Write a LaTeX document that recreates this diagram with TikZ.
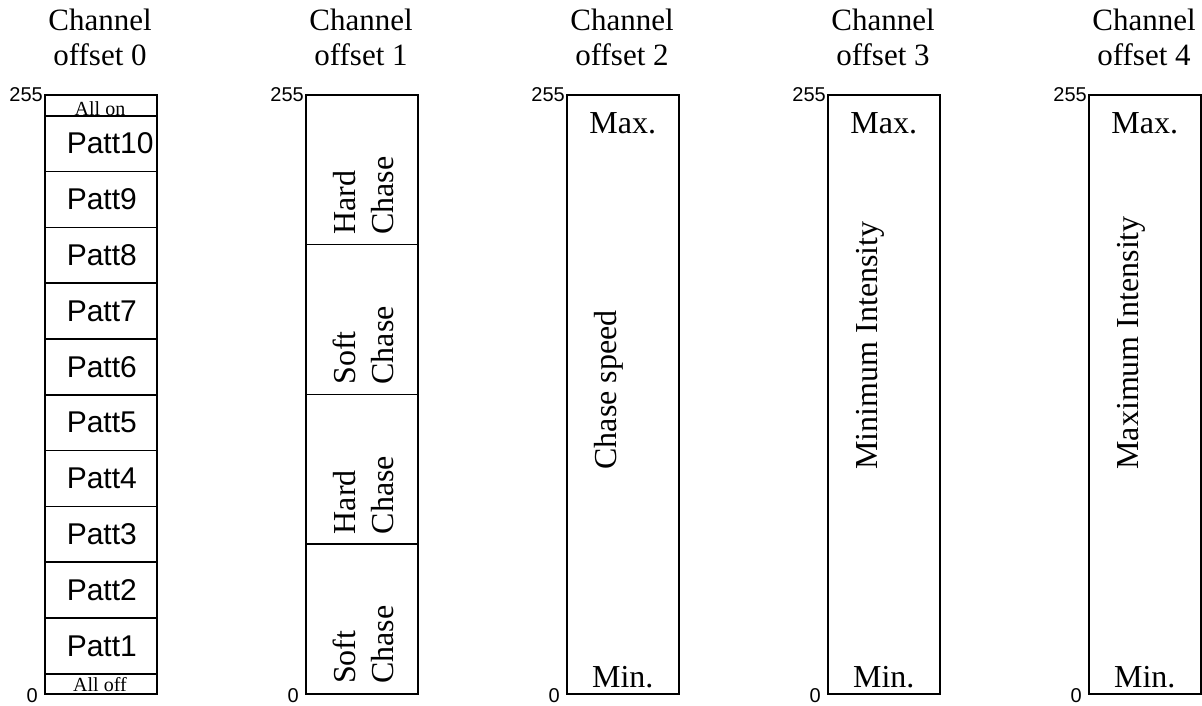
\documentclass[tikz,border=0pt]{standalone}
\usepackage{fontspec}
\setmainfont{Liberation Serif}
\newfontfamily\labelfont{Liberation Sans}
\begin{document}
\begin{tikzpicture}[
        x=1pt, y=-1pt,
        cell/.style={draw, line width=1.5pt, rectangle, minimum width=112pt, inner sep=0pt, anchor=north west},
        patt/.style={cell, minimum height=55.8pt, text width=68pt, inner xsep=22pt, align=left, font=\labelfont\fontsize{30}{36}\selectfont},
        title/.style={align=center, anchor=north, inner sep=0pt, font=\fontsize{31}{35}\selectfont},
        tick/.style={anchor=east, inner sep=1pt, font=\labelfont\fontsize{20}{24}\selectfont},
        small/.style={anchor=base, inner sep=0pt, font=\fontsize{20}{24}\selectfont},
        limit/.style={anchor=base, inner sep=0pt, font=\fontsize{32}{38}\selectfont},
        vtext/.style={rotate=90, anchor=west, align=left, font=\fontsize{32}{38}\selectfont},
    ]
    \useasboundingbox (0,0) rectangle (1202,705);
    % titles and range marks
    \foreach \i/\xl in {0/44,1/305,2/566,3/827,4/1088}{
        \node[title] (title\i) at (\xl+56,9) {Channel\\offset \i};
        \node[tick, yshift=-1pt] (top\i) at (\xl,94) {255};
        \node[tick, xshift=-5pt, yshift=-3pt] (bot\i) at (\xl,693) {0};
    }
    % offset 0
    \node[cell, minimum height=21pt] (allon) at (44,94) {};
    \node[small] (allontext) at (100,115) {All on};
    \foreach \n in {1,...,10}
        \node[patt] (patt\n) at (44,{673-\n*55.8}) {Patt\n};
    \node[cell, minimum height=20pt] (alloff) at (44,673) {};
    \node[small] (allofftext) at (100,691) {All off};
    % offset 1
    \node[cell, minimum height=149.75pt] (hard1) at (305,94) {};
    \node[cell, minimum height=149.75pt] (soft1) at (305,243.75) {};
    \node[cell, minimum height=149.75pt] (hard2) at (305,393.5) {};
    \node[cell, minimum height=149.75pt] (soft2) at (305,543.25) {};
    \node[vtext] (hard1text) at ([xshift=2pt,yshift=7pt]hard1.south) {Hard\\Chase};
    \node[vtext] (soft1text) at ([xshift=2pt,yshift=7pt]soft1.south) {Soft\\Chase};
    \node[vtext] (hard2text) at ([xshift=2pt,yshift=7pt]hard2.south) {Hard\\Chase};
    \node[vtext] (soft2text) at ([xshift=2pt,yshift=7pt]soft2.south) {Soft\\Chase};
    % offsets 2 to 4
    \node[cell, minimum height=599pt] (speed) at (566,94) {};
    \node[cell, minimum height=599pt] (minint) at (827,94) {};
    \node[cell, minimum height=599pt] (maxint) at (1088,94) {};
    \node[vtext] (speedtext) at (609,473) {Chase speed};
    \node[vtext] (mininttext) at (870,473) {Minimum Intensity};
    \node[vtext] (maxinttext) at (1131,473) {Maximum Intensity};
    \node[limit] (speedmax) at (speed.north |- 0,133) {Max.};
    \node[limit] (speedmin) at (speed.north |- 0,687) {Min.};
    \node[limit] (minintmax) at (minint.north |- 0,133) {Max.};
    \node[limit] (minintmin) at (minint.north |- 0,687) {Min.};
    \node[limit] (maxintmax) at (maxint.north |- 0,133) {Max.};
    \node[limit] (maxintmin) at (maxint.north |- 0,687) {Min.};
\end{tikzpicture}
\end{document}
